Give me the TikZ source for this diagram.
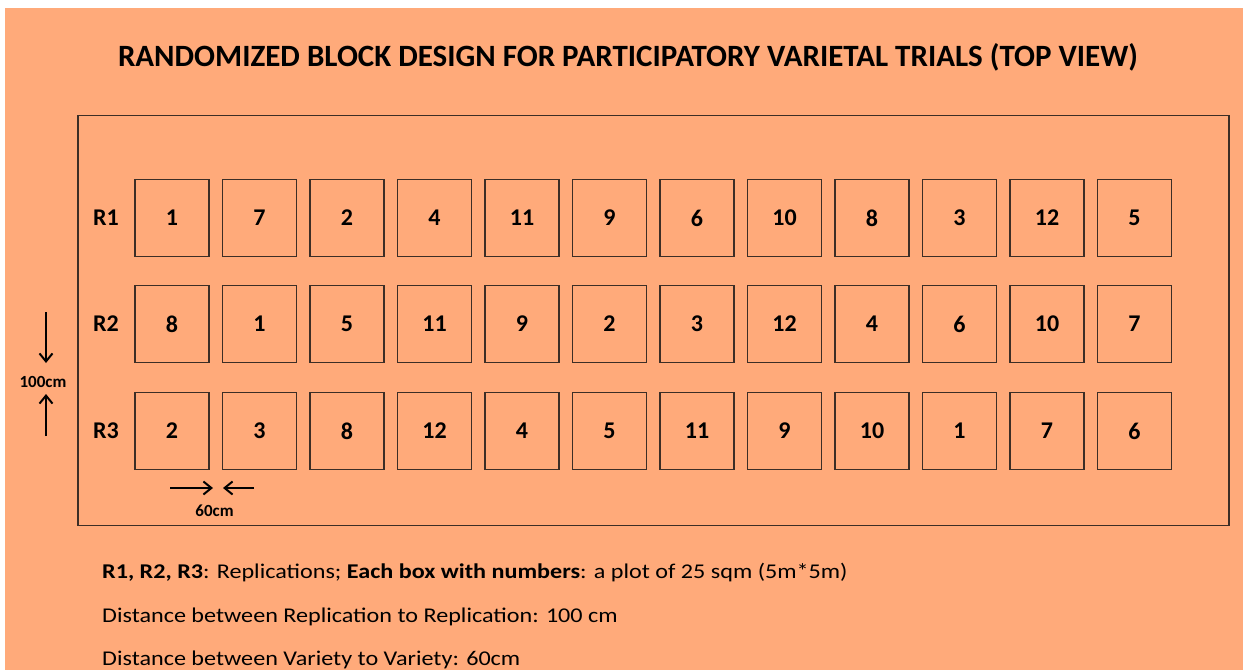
\documentclass[tikz,border=0pt]{standalone}
\usepackage{fontspec}
\setmainfont{Carlito}
\usetikzlibrary{arrows.meta}
\definecolor{bgorange}{HTML}{FFAA7A}
\definecolor{linec}{HTML}{3C2E26}
\tikzset{
  plot/.style={draw=linec, line width=1.4pt, minimum width=74pt, minimum height=77pt, inner sep=0pt, font=\fontsize{24}{26}\selectfont\bfseries},
  rowlab/.style={font=\fontsize{24}{26}\selectfont\bfseries, inner sep=0pt},
  dimarrow/.style={line width=2pt, -{Straight Barb[length=8pt,width=13pt,line width=2pt]}},
  dimlab/.style={font=\fontsize{17}{19}\selectfont\bfseries, inner sep=0pt},
  note/.style={anchor=base west, font=\fontsize{21}{23}\selectfont, inner sep=0pt}
}
\newcommand{\wide}[1]{\scalebox{1.15}[1]{#1}}
\begin{document}
\begin{tikzpicture}[x=1pt,y=-1pt]
\useasboundingbox (0,0) rectangle (1243,670);
\fill[white] (0,0) rectangle (1243,670);
\fill[bgorange] (5,8) rectangle (1243,670);
\node[font=\bfseries, inner sep=0pt] (title) at (628,57) {\resizebox{1020pt}{!}{\fontsize{29}{31}\selectfont RANDOMIZED BLOCK DESIGN FOR PARTICIPATORY VARIETAL TRIALS (TOP VIEW)}};
\node[draw=linec, line width=1.3pt, minimum width=1151pt, minimum height=410pt, inner sep=0pt] (frame) at (653.5,320.5) {};
\foreach \r/\yy/\list in {1/218/{1,7,2,4,11,9,6,10,8,3,12,5},2/324/{8,1,5,11,9,2,3,12,4,6,10,7},3/431/{2,3,8,12,4,5,11,9,10,1,7,6}}{
  \node[rowlab] (R\r) at (106,\yy) {R\r};
  \foreach \v [count=\c] in \list {
    \node[plot] (b\r-\c) at ({172+87.5*(\c-1)},\yy) {\v};
  }
}
\coordinate (vd1) at (46,312);
\coordinate (vd2) at (46,363);
\coordinate (vu1) at (46,436);
\coordinate (vu2) at (46,394);
\draw[dimarrow] (vd1) -- (vd2);
\draw[dimarrow] (vu1) -- (vu2);
\node[dimlab] (d100) at (43,382) {100cm};
\coordinate (hr1) at (170,488);
\coordinate (hr2) at (213,488);
\coordinate (hl1) at (254,488);
\coordinate (hl2) at (223,488);
\draw[dimarrow] (hr1) -- (hr2);
\draw[dimarrow] (hl1) -- (hl2);
\node[dimlab] (d60) at (214.5,511) {60cm};
\node[note] (n1) at (102,578) {\wide{\textbf{R1, R2, R3}: Replications; \textbf{Each box with numbers}: a plot of 25 sqm (5m*5m)}};
\node[note] (n2) at (102,622) {\wide{Distance between Replication to Replication: 100 cm}};
\node[note] (n3) at (102,665) {\wide{Distance between Variety to Variety: 60cm}};
\end{tikzpicture}
\end{document}
